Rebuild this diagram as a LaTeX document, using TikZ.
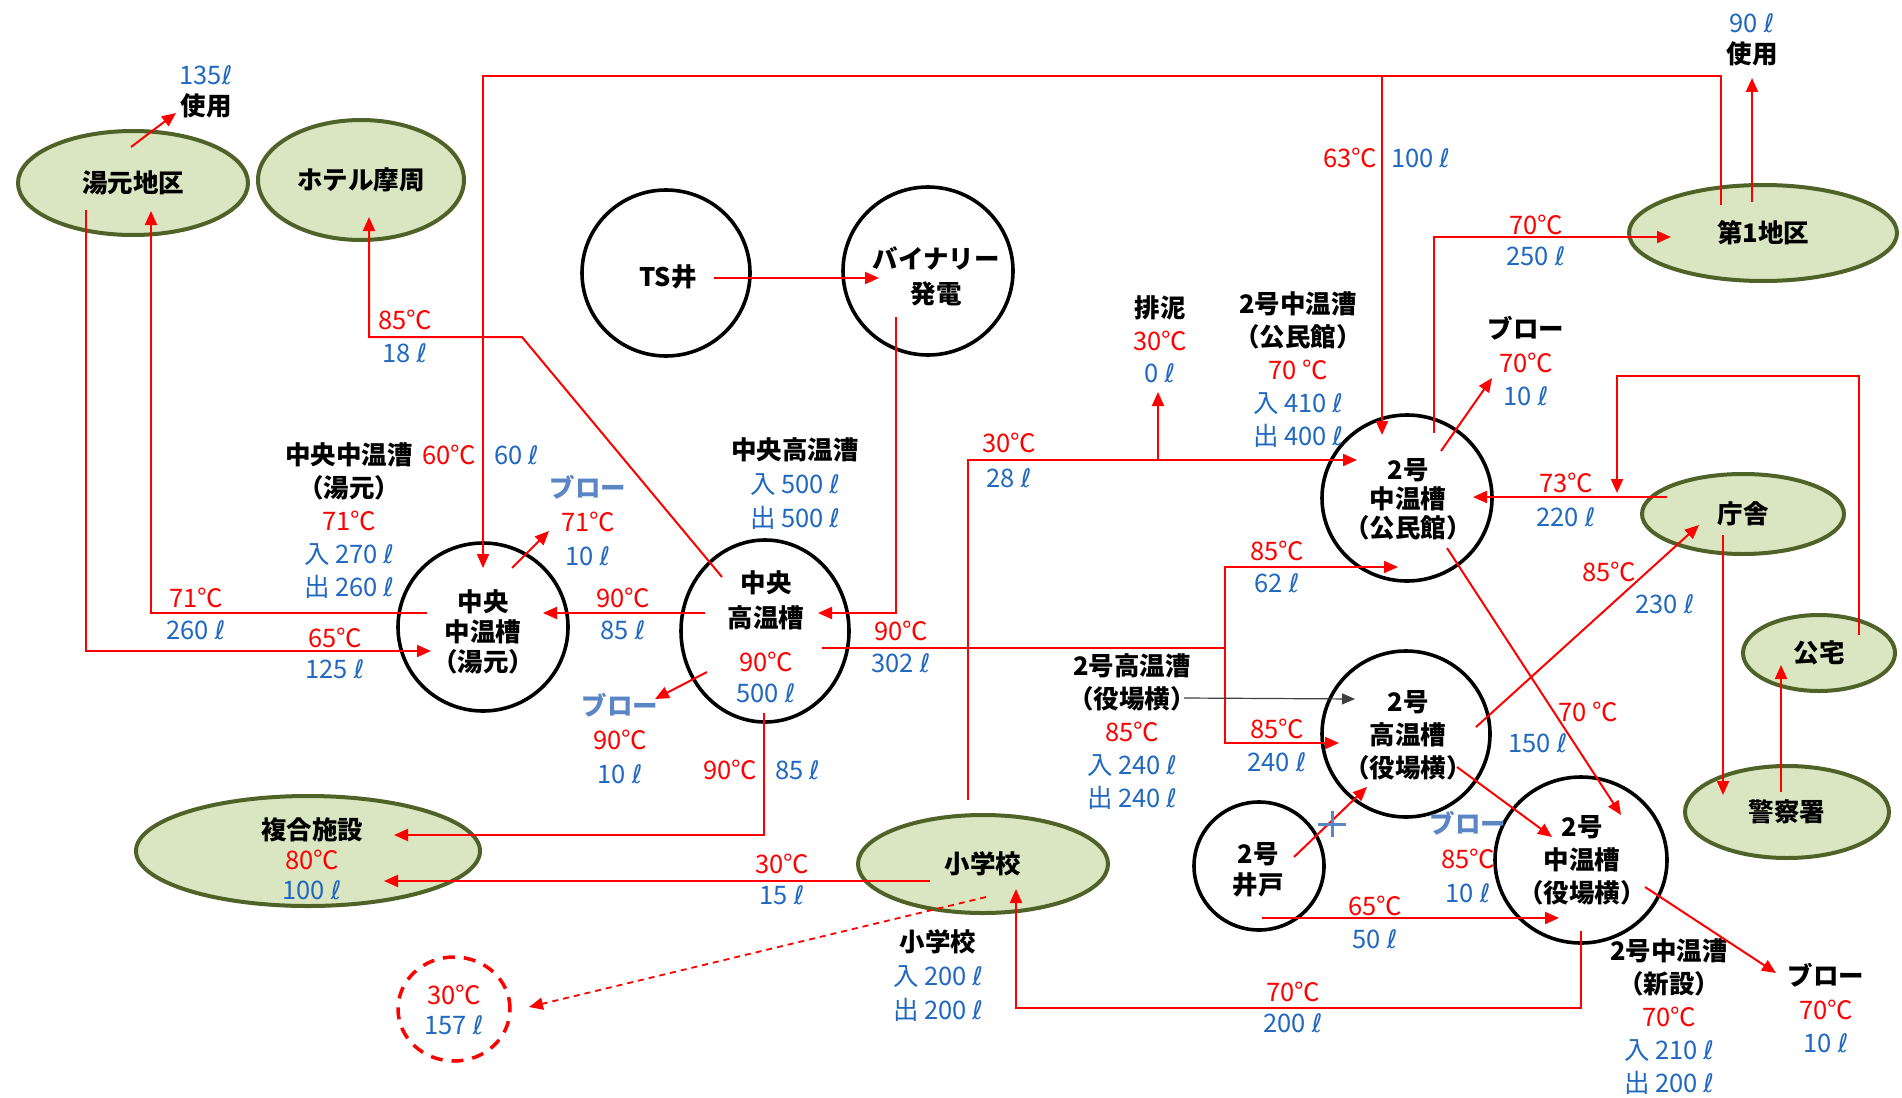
\documentclass[tikz,border=0pt]{standalone}
\usepackage{fontspec}
\setmainfont{Noto Sans CJK JP}
\newfontfamily\dejavu{DejaVu Sans}
\usetikzlibrary{arrows.meta,shapes.geometric}
\definecolor{tred}{HTML}{FF0000}
\definecolor{tblue}{HTML}{2068C0}
\definecolor{bblue}{HTML}{5A86C6}
\definecolor{gfill}{HTML}{DAE6C1}
\definecolor{grim}{HTML}{A9C07A}
\definecolor{gedge}{HTML}{4F6228}
\pgfdeclareradialshading{rimglow}{\pgfpoint{0bp}{0bp}}{color(0bp)=(gfill); color(42bp)=(gfill); color(50bp)=(grim)}
\newcommand\redt[1]{\textcolor{tred}{#1}}
\newcommand\bluet[1]{\textcolor{tblue}{#1}}
\newcommand\blowt[1]{\textcolor{bblue}{#1}}
\newcommand\myl{{\dejavu ℓ}}
\begin{document}
\begin{tikzpicture}[x=1pt,y=-1pt,
  every node/.style={inner sep=0pt},
  gell/.style={ellipse, draw=gedge, line width=4pt, shading=rimglow, font=\fontsize{25.5}{30}\selectfont\bfseries},
  tank/.style={ellipse, draw=black, line width=3.6pt},
  lab/.style={align=center, font=\fontsize{25.5}{#1}\selectfont},
  lab/.default=33,
  flow/.style={draw=tred, line width=2pt},
  arr/.style={flow, -{Triangle[length=14pt,width=12pt]}},
]
\fill[white] (0,0) rectangle (1902,1097);
\useasboundingbox (0,0) rectangle (1902,1097);

% ---------- green ellipses ----------
\node[gell, minimum width=230pt, minimum height=104pt] (yumoto) at (133,183) {湯元地区};
\node[gell, minimum width=206pt, minimum height=120pt] (hotel) at (361,180) {ホテル摩周};
\node[gell, minimum width=268pt, minimum height=96pt] (dai1) at (1763,233) {第1地区};
\node[gell, minimum width=202pt, minimum height=80pt] (chosha) at (1743,514) {庁舎};
\node[gell, minimum width=152pt, minimum height=76pt] (kotaku) at (1819,653) {公宅};
\node[gell, minimum width=204pt, minimum height=92pt] (keisatsu) at (1787,812) {警察署};
\node[gell, minimum width=344pt, minimum height=110pt] (fukugo) at (308,851) {};
\node[gell, minimum width=250pt, minimum height=98pt] (shogakko) at (983,864) {小学校};

% ---------- tanks ----------
\node[tank, minimum width=168pt, minimum height=166pt] (ts) at (666,273) {};
\node[tank, minimum width=170pt, minimum height=168pt] (bin) at (928,271) {};
\node[tank, minimum width=170pt, minimum height=168pt] (cyu) at (483,627) {};
\node[tank, minimum width=168pt, minimum height=182pt] (chi) at (765,631) {};
\node[tank, minimum width=170pt, minimum height=166pt] (k2) at (1407,498) {};
\node[tank, minimum width=168pt, minimum height=166pt] (h2) at (1406,734) {};
\node[tank, minimum width=130pt, minimum height=128pt] (well) at (1259,866) {};
\node[tank, minimum width=172pt, minimum height=166pt] (y2) at (1581,860) {};
\node[ellipse, draw=tred, line width=3.5pt, dash pattern=on 12pt off 9pt, minimum width=112pt, minimum height=104pt] (dsh) at (454,1009) {};

% ---------- tank texts ----------
\node[lab] (tsT) at (668,277) {\textbf{TS井}};
\node[lab=35] (binT) at (936,276) {\textbf{バイナリー}\\\textbf{発電}};
\node[lab=30] (cyuT) at (483,632) {\textbf{中央}\\\textbf{中温槽}\\\textbf{（湯元）}};
\node[lab=35] (chiT1) at (766,600) {\textbf{中央}\\\textbf{高温槽}};
\node[lab=31] (chiT2) at (766,677) {\redt{90℃}\\\bluet{500 \myl}};
\node[lab=29] (k2T) at (1408,499) {\textbf{2号}\\\textbf{中温槽}\\\textbf{（公民館）}};
\node[lab=33] (h2T) at (1408,735) {\textbf{2号}\\\textbf{高温槽}\\\textbf{（役場横）}};
\node[lab=31] (wellT) at (1258,870) {\textbf{2号}\\\textbf{井戸}};
\node[lab=33] (y2T) at (1582,860) {\textbf{2号}\\\textbf{中温槽}\\\textbf{（役場横）}};
\node[lab=30] (fukT) at (312,859) {\textbf{複合施設}\\\redt{80℃}\\\bluet{100 \myl}};
\node[lab=30] (dshT) at (454,1010) {\redt{30℃}\\\bluet{157 \myl}};

% ---------- labels ----------
\node[lab=31] (t135) at (206,92) {\bluet{135\myl}\\\textbf{使用}};
\node[lab=31] (t90u) at (1752,40) {\bluet{90 \myl}\\\textbf{使用}};
\node[lab] (tHot) at (405,336) {\redt{85℃}\\\bluet{18 \myl}};
\node[lab, anchor=east] (t63) at (1377,158) {\redt{63℃}};
\node[lab, anchor=west] (t100) at (1391,158) {\bluet{100 \myl}};
\node[lab=31] (t70a) at (1536,240) {\redt{70℃}\\\bluet{250 \myl}};
\node[lab=33.5] (tBlowK) at (1526,361.5) {\textbf{ブロー}\\\redt{70℃}\\\bluet{10 \myl}};
\node[lab=34] (t73) at (1566,500) {\redt{73℃}\\\bluet{220 \myl}};
\node[lab] (t85c) at (1609,572) {\redt{85℃}};
\node[lab] (t230) at (1665,604) {\bluet{230 \myl}};
\node[lab] (t70b) at (1588,712) {\redt{70 ℃}};
\node[lab] (t150) at (1538,743) {\bluet{150 \myl}};
\node[lab=32.5] (tHai) at (1160,339.5) {\textbf{排泥}\\\redt{30℃}\\\bluet{0 \myl}};
\node[lab] (tK2b) at (1298,369.5) {\textbf{2号中温漕}\\\textbf{（公民館）}\\\redt{70 ℃}\\\bluet{入 410 \myl}\\\bluet{出 400 \myl}};
\node[lab=35] (t30a) at (1009,460.5) {\redt{30℃}\\\bluet{28 \myl}};
\node[lab=34] (tChib) at (795,484) {\textbf{中央高温漕}\\\bluet{入 500 \myl}\\\bluet{出 500 \myl}};
\node[lab] (tCyub) at (349,521) {\textbf{中央中温漕}\\\textbf{（湯元）}\\\redt{71℃}\\\bluet{入 270 \myl}\\\bluet{出 260 \myl}};
\node[lab, anchor=east] (t60c) at (476,455) {\redt{60℃}};
\node[lab, anchor=west] (t60l) at (494,455) {\bluet{60 \myl}};
\node[lab=34] (tBlowC) at (588,521) {\blowt{\textbf{ブロー}}\\\redt{71℃}\\\bluet{10 \myl}};
\node[lab=32] (t90a) at (623,614) {\redt{90℃}\\\bluet{85 \myl}};
\node[lab=32] (t71) at (196,614) {\redt{71℃}\\\bluet{260 \myl}};
\node[lab=31] (t65a) at (335,653) {\redt{65℃}\\\bluet{125 \myl}};
\node[lab=32] (t90b) at (901,647) {\redt{90℃}\\\bluet{302 \myl}};
\node[lab=34] (tBlowH) at (620,739) {\blowt{\textbf{ブロー}}\\\redt{90℃}\\\bluet{10 \myl}};
\node[lab, anchor=east] (t90c) at (757,770) {\redt{90℃}};
\node[lab, anchor=west] (t85l) at (775,770) {\bluet{85 \myl}};
\node[lab=31] (t30b) at (782,879) {\redt{30℃}\\\bluet{15 \myl}};
\node[lab=34] (tSho) at (938,976) {\textbf{小学校}\\\bluet{入 200 \myl}\\\bluet{出 200 \myl}};
\node[lab] (tH2b) at (1132,731.5) {\textbf{2号高温漕}\\\textbf{（役場横）}\\\redt{85℃}\\\bluet{入 240 \myl}\\\bluet{出 240 \myl}};
\node[lab=32] (t85a) at (1277,567) {\redt{85℃}\\\bluet{62 \myl}};
\node[lab] (t85b) at (1277,745.5) {\redt{85℃}\\\bluet{240 \myl}};
\node[lab=34.5] (tBlowY) at (1468,857.5) {\blowt{\textbf{ブロー}}\\\redt{85℃}\\\bluet{10 \myl}};
\node[lab] (t65b) at (1375,922.5) {\redt{65℃}\\\bluet{50 \myl}};
\node[lab=31] (t70c) at (1293,1007.5) {\redt{70℃}\\\bluet{200 \myl}};
\node[lab] (tY2b) at (1669,1016.5) {\textbf{2号中温漕}\\\textbf{（新設）}\\\redt{70℃}\\\bluet{入 210 \myl}\\\bluet{出 200 \myl}};
\node[lab=33.5] (tBlowN) at (1826,1008.5) {\textbf{ブロー}\\\redt{70℃}\\\bluet{10 \myl}};

% ---------- connector end points ----------
\coordinate (yuA) at (131,147);   \coordinate (yuB) at (176,113);
\coordinate (yuC) at (86,210);    \coordinate (cyuIn1) at (431,651);
\coordinate (cyuOut1) at (427,613); \coordinate (yuIn) at (151,211);
\coordinate (chiOut1) at (722,577); \coordinate (hoIn) at (369,217);
\coordinate (d1Out) at (1721,205); \coordinate (cyuTop) at (483,568);
\coordinate (k2Top) at (1382,435); \coordinate (brTop) at (1382,76);
\coordinate (d1UpS) at (1752,202); \coordinate (d1UpE) at (1752,78);
\coordinate (k2Out1) at (1434,433); \coordinate (d1In) at (1671,237);
\coordinate (k2BlS) at (1441,451); \coordinate (k2BlE) at (1492,378);
\coordinate (kotOut) at (1859,635); \coordinate (choIn1) at (1617,493);
\coordinate (choOut1) at (1667,497); \coordinate (k2In1) at (1473,497);
\coordinate (h2Out1) at (1476,727); \coordinate (choIn2) at (1699,525);
\coordinate (k2Out2) at (1447,548); \coordinate (y2In1) at (1621,815);
\coordinate (choOut2) at (1723,535); \coordinate (keiIn) at (1723,795);
\coordinate (keiOut) at (1781,792); \coordinate (kotIn) at (1781,665);
\coordinate (wellOut1) at (1294,857); \coordinate (h2In1) at (1367,787);
\coordinate (h2Out2) at (1457,767); \coordinate (y2In2) at (1552,837);
\coordinate (wellOut2) at (1262,918); \coordinate (y2In3) at (1559,918);
\coordinate (y2Out1) at (1581,931); \coordinate (shoIn1) at (1016,889);
\coordinate (y2BlS) at (1645,887); \coordinate (y2BlE) at (1776,973);
\coordinate (chiOut2) at (822,648); \coordinate (brJ) at (1225,648);
\coordinate (k2In2) at (1398,567); \coordinate (h2In2) at (1339,743);
\coordinate (shoOut1) at (968,800); \coordinate (k2In3) at (1357,460);
\coordinate (brH) at (1158,460); \coordinate (haiE) at (1158,392);
\coordinate (binOut) at (896,317); \coordinate (chiIn1) at (818,613);
\coordinate (tsOut) at (714,278); \coordinate (binIn) at (879,278);
\coordinate (chiOut3) at (705,613); \coordinate (cyuIn2) at (543,613);
\coordinate (cyuBlS) at (512,568); \coordinate (cyuBlE) at (549,531);
\coordinate (chiBlS) at (707,672); \coordinate (chiBlE) at (655,699);
\coordinate (chiOut4) at (764,713); \coordinate (fukIn1) at (394,835);
\coordinate (shoOut2) at (930,881); \coordinate (fukIn2) at (384,881);
\coordinate (shoOut3) at (986,897); \coordinate (dshIn) at (529,1007);
\coordinate (h2lab) at (1184,698); \coordinate (h2In3) at (1355,699);

% ---------- connectors ----------
\draw[arr] (yuA) -- (yuB);
\draw[arr] (yuC) |- (cyuIn1);
\draw[arr] (cyuOut1) -| (yuIn);
\draw[arr] (chiOut1) -- (522,337) -| (hoIn);
\draw[arr] (d1Out) |- (483,76) -- (cyuTop);
\draw[arr] (brTop) -- (k2Top);
\draw[arr] (d1UpS) -- (d1UpE);
\draw[arr] (k2Out1) |- (d1In);
\draw[arr] (k2BlS) -- (k2BlE);
\draw[arr] (kotOut) |- (1617,376) -- (choIn1);
\draw[arr] (choOut1) -- (k2In1);
\draw[arr] (h2Out1) -- (choIn2);
\draw[arr] (k2Out2) -- (y2In1);
\draw[arr] (choOut2) -- (keiIn);
\draw[arr] (keiOut) -- (kotIn);
\draw[arr] (wellOut1) -- (h2In1);
\draw[arr] (h2Out2) -- (y2In2);
\draw[arr] (wellOut2) -- (y2In3);
\draw[arr] (y2Out1) |- (1016,1008) -- (shoIn1);
\draw[arr] (y2BlS) -- (y2BlE);
\draw[flow] (chiOut2) -- (brJ);
\draw[arr] (1225,648) |- (k2In2);
\draw[arr] (1225,648) |- (h2In2);
\draw[arr] (shoOut1) |- (k2In3);
\draw[arr] (brH) -- (haiE);
\draw[arr] (binOut) |- (chiIn1);
\draw[arr] (tsOut) -- (binIn);
\draw[arr] (chiOut3) -- (cyuIn2);
\draw[arr] (cyuBlS) -- (cyuBlE);
\draw[arr] (chiBlS) -- (chiBlE);
\draw[arr] (chiOut4) |- (fukIn1);
\draw[arr] (shoOut2) -- (fukIn2);
\draw[arr, line width=1.8pt, dash pattern=on 6pt off 5pt] (shoOut3) -- (dshIn);
\draw[draw=black!75, line width=1.2pt, -{Triangle[length=13pt,width=11pt]}] (h2lab) -- (h2In3);

% blue cross
\draw[bblue, line width=3pt] (1318,824) -- (1346,824) (1332,811) -- (1332,837);
\end{tikzpicture}
\end{document}
